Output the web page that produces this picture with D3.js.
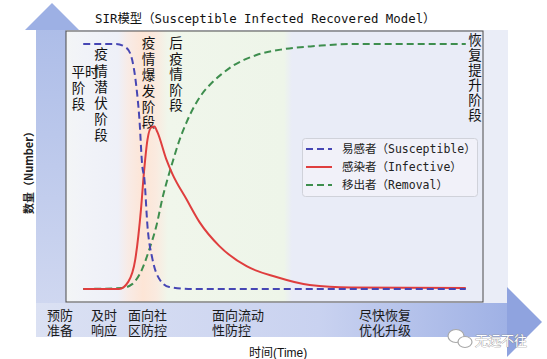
<!DOCTYPE html>
<html><head><meta charset="utf-8">
<script src="https://cdn.jsdelivr.net/npm/d3@7"></script>
<style>body{margin:0;background:#fff}svg{display:block}.vt{writing-mode:vertical-rl;text-orientation:upright}</style>
</head><body><svg id="c" width="547" height="359"></svg>
<script>
// ---- data ----
const sTime = [0, 8.6, 11.3, 12.6, 13.9, 14.7, 15.4, 16.0, 16.8, 18.1, 19.9, 22.5, 28.5, 100];
const susceptible = [1, 1, 0.984, 0.947, 0.825, 0.691, 0.508, 0.447, 0.256, 0.122, 0.041, 0.008, 0, 0];
const iTime = [0, 9.4, 11.8, 13.6, 15.1, 15.9, 16.8, 17.8, 18.6, 19.4, 21.7, 23.3, 27.0, 30.4, 35.6, 42.7, 50.5, 59.2, 70, 100];
const infective = [0, 0, 0.03, 0.12, 0.325, 0.48, 0.61, 0.66, 0.663, 0.64, 0.53, 0.47, 0.366, 0.273, 0.175, 0.093, 0.049, 0.016, 0.006, 0.004];
const rTime = [0, 10.2, 12.8, 15.4, 17.3, 19.1, 20.7, 23.3, 25.1, 27.0, 29.0, 31.0, 33.5, 36.0, 39.0, 42.0, 45.3, 52, 61, 70, 100];
const removal = [0, 0.004, 0.02, 0.081, 0.163, 0.256, 0.37, 0.515, 0.605, 0.68, 0.745, 0.795, 0.84, 0.875, 0.91, 0.935, 0.955, 0.978, 0.992, 1, 1];
const legendLabels = ["易感者（Susceptible）", "感染者（Infective）", "移出者（Removal）"];
const phaseTop = "平时";
const phaseLabels = ["阶段", "疫情潜伏阶段", "疫情爆发阶段", "后疫情阶段", "恢复提升阶段"];
const actionLabels = [["预防", "准备"], ["及时", "响应"], ["面向社", "区防控"], ["面向流动", "性防控"], ["尽快恢复", "优化升级"]];
const titleText = "SIR模型（Susceptible Infected Recovered Model）";
const yLabel = "数量（Number）";
const xLabel = "时间(Time)";

// ---- layout ----
const svg = d3.select("#c");
const L = 66, R = 483, T = 31, B = 302;
const x = d3.scaleLinear().domain([-4.5, 104.5]).range([L, R]);
const y = d3.scaleLinear().domain([0, 1]).range([289, 44]);
const cjk = "'Noto Sans CJK SC', 'Noto Sans', sans-serif";
const mono = "'DejaVu Sans Mono', 'Noto Sans CJK SC', monospace";

const defs = svg.append("defs");
const g1 = defs.append("linearGradient").attr("id", "vshaft").attr("x1", 0).attr("y1", 0).attr("x2", 0).attr("y2", 1);
g1.append("stop").attr("offset", 0).attr("stop-color", "#adbde8");
g1.append("stop").attr("offset", 1).attr("stop-color", "#cfd7f0");
const g2 = defs.append("linearGradient").attr("id", "hband").attr("x1", 0).attr("y1", 0).attr("x2", 1).attr("y2", 0);
g2.append("stop").attr("offset", 0).attr("stop-color", "#dbe1f3");
g2.append("stop").attr("offset", 0.6).attr("stop-color", "#c9d2f0");
g2.append("stop").attr("offset", 1).attr("stop-color", "#9fb1e5");
const g3 = defs.append("linearGradient").attr("id", "plotbg").attr("gradientUnits", "userSpaceOnUse")
  .attr("x1", L).attr("x2", R).attr("y1", 0).attr("y2", 0);
[[66, "#f3f5f6"], [84, "#f1f3f8"], [118, "#eef0f8"], [128, "#f8ebe6"], [143, "#fde5d6"], [156, "#faeadf"], [168, "#f0f6eb"], [284, "#eef5e9"], [292, "#e9ecf7"], [483, "#e9ecf7"]]
  .forEach(([px, c]) => g3.append("stop").attr("offset", (px - L) / (R - L)).attr("stop-color", c));

// big light background behind plot
svg.append("rect").attr("x", 36).attr("y", 30).attr("width", 472).attr("height", 273).attr("fill", "#eaedf7");
// vertical arrow
svg.append("rect").attr("x", 36).attr("y", 29).attr("width", 30).attr("height", 274).attr("fill", "url(#vshaft)");
svg.append("path").attr("d", "M25,30 L52,3 L79,30 Z").attr("fill", "#9db0e4");
// horizontal arrow
svg.append("rect").attr("x", 36).attr("y", 303).attr("width", 472).attr("height", 34).attr("fill", "url(#hband)");
svg.append("path").attr("d", "M507,287 L542,322 L507,357 Z").attr("fill", "#8fa3df");

// plot area
svg.append("rect").attr("x", L).attr("y", T).attr("width", R - L).attr("height", B - T).attr("fill", "url(#plotbg)");

// phase labels (vertical writing)
svg.append("text").attr("font-family", cjk).attr("font-size", 13.5).attr("fill", "#111")
  .attr("x", 71.5).attr("y", 77).text(phaseTop);
const phaseCfg = [
  {x: 78.5, y0: 81.5, sp: 2.0},
  {x: 101, y0: 47.5, sp: 2.7},
  {x: 148.5, y0: 36.5, sp: 2.3},
  {x: 176, y0: 36.5, sp: 2.0},
  {x: 475, y0: 33.5, sp: 1.5}
];
phaseLabels.forEach((s, i) => {
  const c = phaseCfg[i];
  svg.append("text").attr("class", "vt").attr("font-family", cjk).attr("font-size", 13.5)
    .attr("fill", "#111").attr("x", c.x).attr("y", c.y0).style("letter-spacing", c.sp + "px").text(s);
});

// curves
const line = d3.line().x(d => x(d[0])).y(d => y(d[1])).curve(d3.curveMonotoneX);
const series = [
  {t: sTime, v: susceptible, color: "#4646b4", dash: "7,4"},
  {t: iTime, v: infective, color: "#df3e3e", dash: null},
  {t: rTime, v: removal, color: "#3e8e4e", dash: "7,4"}
];
[series[2], series[1], series[0]].forEach(s => {
  svg.append("path").datum(d3.zip(s.t, s.v)).attr("d", line).attr("fill", "none")
    .attr("stroke", s.color).attr("stroke-width", 2).attr("stroke-dasharray", s.dash);
});

// frame
svg.append("rect").attr("x", L).attr("y", T).attr("width", R - L).attr("height", B - T)
  .attr("fill", "none").attr("stroke", "#4a4a4a").attr("stroke-width", 1);

// legend
const lg = svg.append("g");
lg.append("rect").attr("x", 302.5).attr("y", 138.5).attr("width", 175).attr("height", 58).attr("rx", 3)
  .attr("fill", "#f2f3f9").attr("fill-opacity", 0.8).attr("stroke", "#d0d2da");
series.forEach((s, i) => {
  const yy = 149 + i * 18;
  lg.append("line").attr("x1", 306).attr("x2", 332).attr("y1", yy).attr("y2", yy)
    .attr("stroke", s.color).attr("stroke-width", 2).attr("stroke-dasharray", s.dash);
  lg.append("text").attr("x", 342).attr("y", yy + 4).attr("font-family", mono).attr("font-size", 11.5)
    .attr("fill", "#222").text(legendLabels[i]);
});

// title
svg.append("text").attr("x", 95).attr("y", 23).attr("font-family", mono).attr("font-size", 12.4)
  .attr("fill", "#111").text(titleText);

// y label
svg.append("text").attr("transform", "translate(33,170) rotate(-90)").attr("text-anchor", "middle")
  .attr("font-family", cjk).attr("font-size", 11).attr("font-weight", "bold").attr("fill", "#222").text(yLabel);

// bottom action labels (one text element per label, two lines)
const actionX = [47, 91, 128, 212, 359];
actionLabels.forEach((rows, i) => {
  const t = svg.append("text").attr("font-family", cjk).attr("font-size", 13).attr("fill", "#1a1a1a");
  rows.forEach((r, j) => t.append("tspan").attr("x", actionX[i]).attr("y", 319.5 + j * 15.5).text(r));
});

// x label
svg.append("text").attr("x", 249).attr("y", 357).attr("font-family", "'Liberation Sans', 'Noto Sans CJK SC', sans-serif")
  .attr("font-size", 12).attr("fill", "#111").text(xLabel);

// watermark
const wm = svg.append("g");
wm.append("ellipse").attr("cx", 456).attr("cy", 336).attr("rx", 8).attr("ry", 6.5).attr("fill", "#fff").attr("stroke", "#a8a8a8").attr("stroke-width", 1.2);
wm.append("ellipse").attr("cx", 465).attr("cy", 342).attr("rx", 7).attr("ry", 5.5).attr("fill", "#fff").attr("stroke", "#a8a8a8").attr("stroke-width", 1.2);
wm.append("text").attr("x", 475).attr("y", 345).attr("font-family", cjk).attr("font-size", 13)
  .attr("fill", "#fff").attr("stroke", "#8a8a8a").attr("stroke-width", 0.7).attr("paint-order", "stroke").text("无远不往");
</script></body></html>
